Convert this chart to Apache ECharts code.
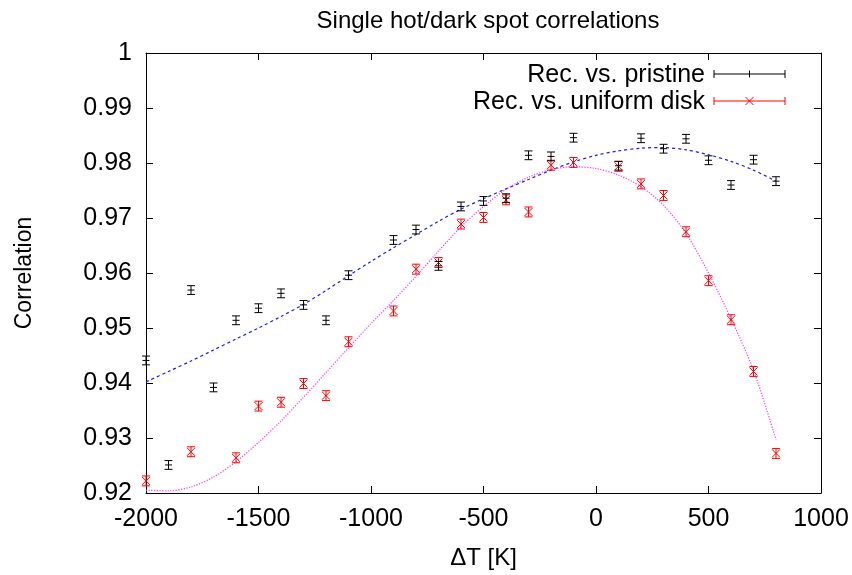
<!DOCTYPE html>
<html>
<head>
<meta charset="utf-8">
<script src="https://cdn.jsdelivr.net/npm/echarts@6/dist/echarts.min.js"></script>
<style>
  html, body { margin: 0; padding: 0; background: #fff; }
  #chart { width: 852px; height: 575px; }
</style>
</head>
<body>
<div id="chart"></div>
<script>
// measured points, Rec. vs. pristine
const xBlack = [-2000, -1900, -1800, -1700, -1600, -1500, -1400, -1300, -1200, -1100, -900, -800, -700, -600, -500, -400, -300, -200, -100, 100, 200, 300, 400, 500, 600, 700, 800];
const yBlack = [0.9441, 0.9251, 0.9569, 0.9392, 0.9514, 0.9536, 0.9563, 0.9542, 0.9514, 0.9596, 0.9660, 0.9679, 0.9613, 0.9721, 0.9731, 0.9736, 0.9814, 0.9812, 0.9846, 0.9795, 0.9845, 0.9826, 0.9844, 0.9805, 0.9760, 0.9806, 0.9767];
const errBlack = [0.0008, 0.0008, 0.0008, 0.0008, 0.0008, 0.0008, 0.0008, 0.0008, 0.0008, 0.0008, 0.0008, 0.0008, 0.0008, 0.0008, 0.0008, 0.0008, 0.0008, 0.0008, 0.0008, 0.0008, 0.0008, 0.0008, 0.0008, 0.0008, 0.0008, 0.0008, 0.0008];

// measured points, Rec. vs. uniform disk
const xRed = [-2000, -1800, -1600, -1500, -1400, -1300, -1200, -1100, -900, -800, -700, -600, -500, -400, -300, -200, -100, 100, 200, 300, 400, 500, 600, 700, 800];
const yRed = [0.9222, 0.9275, 0.9264, 0.9358, 0.9365, 0.9399, 0.9377, 0.9475, 0.9531, 0.9607, 0.9619, 0.9689, 0.9701, 0.9733, 0.9711, 0.9796, 0.9801, 0.9794, 0.9762, 0.9741, 0.9675, 0.9586, 0.9515, 0.9421, 0.9272];
const errRed = [0.0009, 0.0009, 0.0009, 0.0009, 0.0009, 0.0009, 0.0009, 0.0009, 0.0009, 0.0009, 0.0009, 0.0009, 0.0009, 0.0009, 0.0009, 0.0009, 0.0009, 0.0009, 0.0009, 0.0009, 0.0009, 0.0009, 0.0009, 0.0009, 0.0009];

// fit curves
const fitX = [-2000, -1900, -1800, -1700, -1600, -1500, -1400, -1300, -1200, -1100, -1000, -900, -800, -700, -600, -500, -400, -300, -200, -100, 0, 100, 200, 300, 400, 500, 600, 700, 800];
const fitBlue = [0.9402, 0.9421, 0.9440, 0.9460, 0.9480, 0.9500, 0.9521, 0.9543, 0.9568, 0.9595, 0.9621, 0.9646, 0.9670, 0.9694, 0.9716, 0.9735, 0.9753, 0.9770, 0.9787, 0.9802, 0.9814, 0.9822, 0.9827, 0.9828, 0.9824, 0.9815, 0.9803, 0.9787, 0.9767];
const fitMagenta = [0.9205, 0.9204, 0.9211, 0.9229, 0.9257, 0.9292, 0.9331, 0.9374, 0.9419, 0.9464, 0.9508, 0.9550, 0.9594, 0.9640, 0.9684, 0.9721, 0.9752, 0.9774, 0.9788, 0.9793, 0.9790, 0.9778, 0.9757, 0.9723, 0.9672, 0.9600, 0.9517, 0.9423, 0.9297];

const xTicks = [-2000, -1500, -1000, -500, 0, 500, 1000];

const FONT = 'Liberation Sans, Arial, sans-serif';

function zip(xs, ys, es) {
  return xs.map((x, i) => es ? [x, ys[i], es[i]] : [x, ys[i]]);
}

function seg(x1, y1, x2, y2, color) {
  return { type: 'line', shape: { x1, y1, x2, y2 }, style: { stroke: color, lineWidth: 1 } };
}

function errRender(kind, color) {
  return function (params, api) {
    let x = api.value(0), y = api.value(1), e = api.value(2);
    let c = api.coord([x, y]);
    let t = api.coord([x, y + e]);
    let b = api.coord([x, y - e]);
    let w = 4;
    let kids = [
      seg(c[0], t[1], c[0], b[1], color),
      seg(c[0] - w, t[1], c[0] + w, t[1], color),
      seg(c[0] - w, b[1], c[0] + w, b[1], color),
    ];
    if (kind === 'plus') {
      kids.push(seg(c[0] - 3.5, c[1], c[0] + 3.5, c[1], color));
    } else {
      kids.push(seg(c[0] - 4, c[1] - 4, c[0] + 4, c[1] + 4, color));
      kids.push(seg(c[0] - 4, c[1] + 4, c[0] + 4, c[1] - 4, color));
    }
    return { type: 'group', children: kids };
  };
}

// legend sample: line with caps and marker
function legendSample(y, color, kind) {
  let x1 = 714, x2 = 785, xm = 749.5;
  let kids = [
    seg(x1, y, x2, y, color),
    seg(x1, y - 4, x1, y + 4, color),
    seg(x2, y - 4, x2, y + 4, color),
  ];
  if (kind === 'plus') {
    kids.push(seg(xm, y - 3.5, xm, y + 3.5, color));
  } else {
    kids.push(seg(xm - 4, y - 4, xm + 4, y + 4, color));
    kids.push(seg(xm - 4, y + 4, xm + 4, y - 4, color));
  }
  return { type: 'group', children: kids };
}

let myChart = echarts.init(document.getElementById('chart'), null, { renderer: 'canvas' });

const axisLine = { show: true, onZero: false, lineStyle: { color: '#000', width: 1 } };
const axisTick = { show: true, inside: true, length: 7, lineStyle: { color: '#000', width: 1 } };

let option = {
  backgroundColor: '#fff',
  animation: false,
  title: {
    text: 'Single hot/dark spot correlations',
    left: 483,
    top: 4,
    textAlign: 'center',
    textStyle: { fontFamily: FONT, fontSize: 24, fontWeight: 'normal', color: '#000' },
  },
  grid: { left: 146, right: 31, top: 53, bottom: 80 },
  xAxis: [
    {
      type: 'value', min: -2000, max: 1000, interval: 500, position: 'bottom',
      name: 'ΔT [K]', nameLocation: 'middle', nameGap: 53,
      nameTextStyle: { fontFamily: FONT, fontSize: 24, color: '#000' },
      axisLine, axisTick, splitLine: { show: false },
      axisLabel: { fontFamily: FONT, fontSize: 25, color: '#000', margin: 14,
        formatter: (v) => xTicks.includes(v) ? String(v) : '' },
    },
    {
      type: 'value', min: -2000, max: 1000, interval: 500, position: 'top',
      axisLine, axisTick, splitLine: { show: false }, axisLabel: { show: false },
    },
  ],
  yAxis: [
    {
      type: 'value', min: 0.92, max: 1, interval: 0.01, position: 'left',
      name: 'Correlation', nameLocation: 'middle', nameGap: 110, nameRotate: 90,
      nameTextStyle: { fontFamily: FONT, fontSize: 23, color: '#000' },
      axisLine, axisTick, splitLine: { show: false },
      axisLabel: { fontFamily: FONT, fontSize: 25, color: '#000', margin: 14,
        formatter: (v) => String(Math.round(v * 100) / 100) },
    },
    {
      type: 'value', min: 0.92, max: 1, interval: 0.01, position: 'right',
      axisLine, axisTick, splitLine: { show: false }, axisLabel: { show: false },
    },
  ],
  series: [
    {
      name: 'fit pristine', type: 'line', data: zip(fitX, fitBlue), smooth: 0.3,
      showSymbol: false, silent: true,
      lineStyle: { color: '#1a1aff', width: 1.2, type: [3, 3] },
      z: 2,
    },
    {
      name: 'fit uniform', type: 'line', data: zip(fitX, fitMagenta), smooth: 0.3,
      showSymbol: false, silent: true,
      lineStyle: { color: '#ff33ff', width: 1.2, type: [1.2, 1.5] },
      z: 2,
    },
    {
      name: 'Rec. vs. uniform disk', type: 'custom', data: zip(xRed, yRed, errRed),
      renderItem: errRender('x', '#ff0000'), z: 3,
    },
    {
      name: 'Rec. vs. pristine', type: 'custom', data: zip(xBlack, yBlack, errBlack),
      renderItem: errRender('plus', '#000000'), z: 4,
    },
  ],
  graphic: [
    { type: 'text', right: 852 - 705, top: 63,
      style: { text: 'Rec. vs. pristine', fontFamily: FONT, fontSize: 25, fill: '#000', textAlign: 'right' } },
    { type: 'text', right: 852 - 705, top: 90,
      style: { text: 'Rec. vs. uniform disk', fontFamily: FONT, fontSize: 25, fill: '#000', textAlign: 'right' } },
    legendSample(74, '#000000', 'plus'),
    legendSample(101, '#ff0000', 'x'),
  ],
};

myChart.setOption(option);
</script>
</body>
</html>
